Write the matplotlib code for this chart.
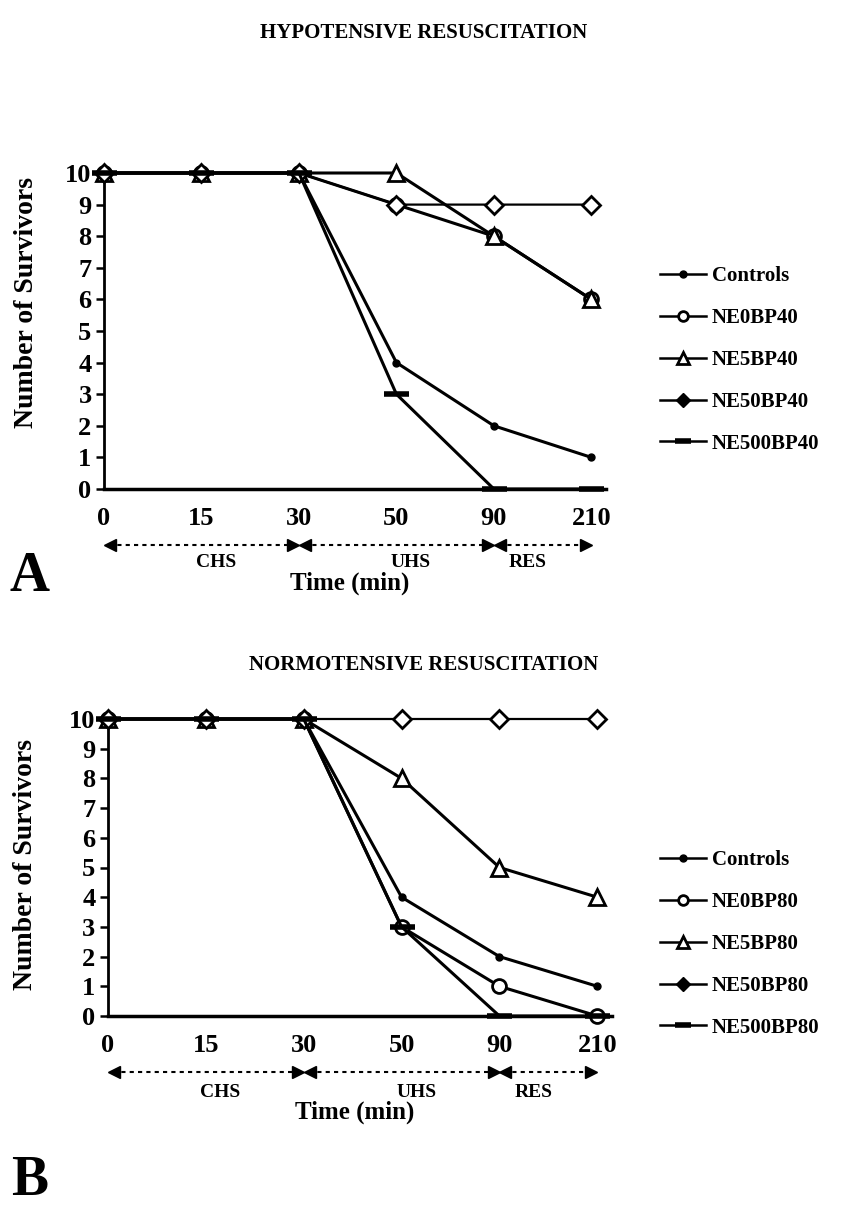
import matplotlib
matplotlib.use("Agg")
import matplotlib.pyplot as plt
from matplotlib.lines import Line2D
from matplotlib.transforms import blended_transform_factory

# ---------------- data ----------------
time_labels = ["0", "15", "30", "50", "90", "210"]

# Panel A: hypotensive resuscitation (BP40)
a_controls = [10, 10, 10, 4, 2, 1]
a_ne0 = [10, 10, 10, 9, 8, 6]
a_ne5 = [10, 10, 10, 10, 8, 6]
a_ne50 = [10, 10, 10, 9, 9, 9]
a_ne500 = [10, 10, 10, 3, 0, 0]

# Panel B: normotensive resuscitation (BP80)
b_controls = [10, 10, 10, 4, 2, 1]
b_ne0 = [10, 10, 10, 3, 1, 0]
b_ne5 = [10, 10, 10, 8, 5, 4]
b_ne50 = [10, 10, 10, 10, 10, 10]
b_ne500 = [10, 10, 10, 3, 0, 0]

labels_a = ["Controls", "NE0BP40", "NE5BP40", "NE50BP40", "NE500BP40"]
labels_b = ["Controls", "NE0BP80", "NE5BP80", "NE50BP80", "NE500BP80"]

phases = [("CHS", 0, 2), ("UHS", 2, 4), ("RES", 4, 5)]
phase_label_x = [1.15, 3.15, 4.35]

# ---------------- style ----------------
plt.rcParams['font.family'] = ['Liberation Serif', 'DejaVu Serif']
plt.rcParams['font.weight'] = 'bold'

fig = plt.figure(figsize=(8.44, 12.08), dpi=100)

styles = [
    dict(marker='o', ms=5, mfc='black', mec='black', lw=2.2),          # Controls
    dict(marker='o', ms=10, mfc='white', mec='black', mew=2, lw=2.2),  # NE0
    dict(marker='^', ms=12, mfc='white', mec='black', mew=2, lw=2.2),  # NE5
    dict(marker='D', ms=9, mfc='white', mec='black', mew=2, lw=1.6),   # NE50
    dict(marker='_', ms=18, mew=4, color='black', lw=2.2),             # NE500
]
legend_styles = [
    dict(marker='o', ms=5, mfc='black', mec='black', lw=1.8),
    dict(marker='o', ms=7, mfc='white', mec='black', mew=2, lw=1.8),
    dict(marker='^', ms=8, mfc='white', mec='black', mew=2, lw=1.8),
    dict(marker='D', ms=7, mfc='black', mec='black', lw=1.8),
    dict(marker='_', ms=12, mew=4, color='black', lw=1.8),
]


def make_panel(rect, series, labels, title, title_y, letter, letter_xy, legend_y,
               ylabel_xy, arrow_y, phase_y, xlabel_y):
    ax = fig.add_axes(rect)
    xs = list(range(len(time_labels)))
    order = [3, 2, 1, 0, 4]
    for i in order:
        st = styles[i]
        ax.plot(xs, series[i], color='black', clip_on=False, zorder=3 + i,
                **{k: v for k, v in st.items() if k != 'color'})
    ax.set_xlim(0, 5.15)
    ax.set_ylim(0, 10)
    ax.set_yticks(range(0, 11))
    ax.set_xticks(xs)
    ax.set_xticklabels(time_labels)
    for s in ['top', 'right']:
        ax.spines[s].set_visible(False)
    ax.spines['left'].set_linewidth(2)
    ax.spines['bottom'].set_linewidth(2.5)
    ax.tick_params(axis='y', direction='out', length=6, width=1.8, labelsize=19, pad=3)
    ax.tick_params(axis='x', length=0, labelsize=19, pad=13)
    for lab in ax.get_xticklabels() + ax.get_yticklabels():
        lab.set_fontweight('bold')
    ax.set_ylabel("Number of Survivors", fontsize=20, fontweight='bold')
    ax.yaxis.set_label_coords(*ylabel_xy)

    tr = blended_transform_factory(ax.transData, ax.transAxes)
    for (name, i0, i1), lx in zip(phases, phase_label_x):
        ax.plot([xs[i0] + 0.05, xs[i1] - 0.05], [arrow_y, arrow_y], transform=tr,
                color='black', lw=1.5, ls=(0, (2, 2)), clip_on=False)
        ax.plot([xs[i0] + 0.06], [arrow_y], transform=tr, marker='<', ms=8,
                color='black', clip_on=False)
        ax.plot([xs[i1] - 0.06], [arrow_y], transform=tr, marker='>', ms=8,
                color='black', clip_on=False)
        ax.text(lx, phase_y, name, transform=tr, ha='center', va='center',
                fontsize=14, fontweight='bold')
    ax.text(0.49, xlabel_y, "Time (min)", transform=ax.transAxes, ha='center',
            va='center', fontsize=18, fontweight='bold')

    fig.text(0.502, title_y, title, ha='center', va='center', fontsize=15,
             fontweight='bold')
    fig.text(letter_xy[0], letter_xy[1], letter,
             ha='center', va='center', fontsize=40, fontweight='bold')

    handles = [Line2D([], [], color='black', **{k: v for k, v in st.items() if k != 'color'})
               for st in legend_styles]
    fig.legend(handles, labels, loc='center left', bbox_to_anchor=(660 / 844, legend_y),
               frameon=False, handlelength=2.2, handletextpad=0.3,
               labelspacing=1.05, borderpad=0, borderaxespad=0,
               prop=dict(weight='bold', size=15))
    return ax


make_panel([104 / 844, 1 - 489 / 1208, 502 / 844, 316 / 1208],
           [a_controls, a_ne0, a_ne5, a_ne50, a_ne500], labels_a,
           "HYPOTENSIVE RESUSCITATION", 1 - 33 / 1208, "A", (30 / 844, 1 - 577 / 1208),
           1 - 360 / 1208, (-0.13, 0.59), -0.177, -0.234, -0.297)

make_panel([108 / 844, 1 - 1016 / 1208, 504 / 844, 297 / 1208],
           [b_controls, b_ne0, b_ne5, b_ne50, b_ne500], labels_b,
           "NORMOTENSIVE RESUSCITATION", 1 - 665 / 1208, "B", (30 / 844, 1 - 1181 / 1208),
           1 - 944 / 1208, (-0.138, 0.51), -0.189, -0.256, -0.323)

fig.savefig("out.png", dpi=100)
